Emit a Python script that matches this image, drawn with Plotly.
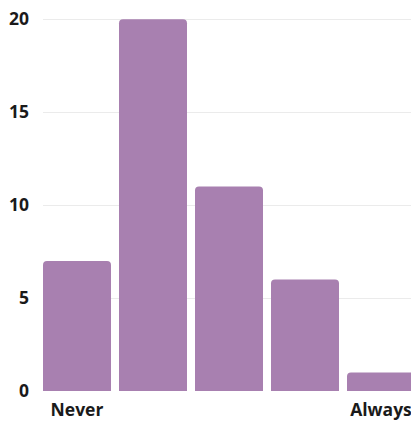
import plotly.graph_objects as go

# Response scale from 1 (Never) to 5 (Always)
scale_points = [1, 2, 3, 4, 5]
tick_labels = ["Never", "", "", "", "Always"]
counts = [7, 20, 11, 6, 1]
y_ticks = [0, 5, 10, 15, 20]

bar_color = "#a880b0"
font_family = "Open Sans, sans-serif"

fig = go.Figure(
    go.Bar(
        x=scale_points,
        y=counts,
        marker=dict(color=bar_color, line=dict(width=0)),
        hoverinfo="x+y",
    )
)

fig.update_layout(
    width=411,
    height=421,
    margin=dict(l=43, r=0, t=10, b=30),
    paper_bgcolor="white",
    plot_bgcolor="white",
    bargap=8 / 76,
    barcornerradius=4,
    showlegend=False,
    font=dict(family=font_family, size=17.5, color="#1a1a1a"),
)

fig.update_xaxes(
    tickmode="array",
    tickvals=scale_points,
    ticktext=[f"<b>{t}</b>" if t else "" for t in tick_labels],
    range=[0.5 + 4 / 76, 5.5 - 8 / 76],
    showgrid=False,
    zeroline=False,
    showline=False,
    ticks="",
    ticklabelstandoff=6,
    ticklabeloverflow="allow",
)

fig.update_yaxes(
    tickmode="array",
    tickvals=y_ticks,
    ticktext=[f"<b>{v}</b>" for v in y_ticks],
    range=[0, 20.5],
    showgrid=True,
    gridcolor="#ebebeb",
    gridwidth=1,
    zeroline=False,
    showline=False,
    ticks="",
    ticklabelstandoff=13,
)

fig.write_html("out.html")
